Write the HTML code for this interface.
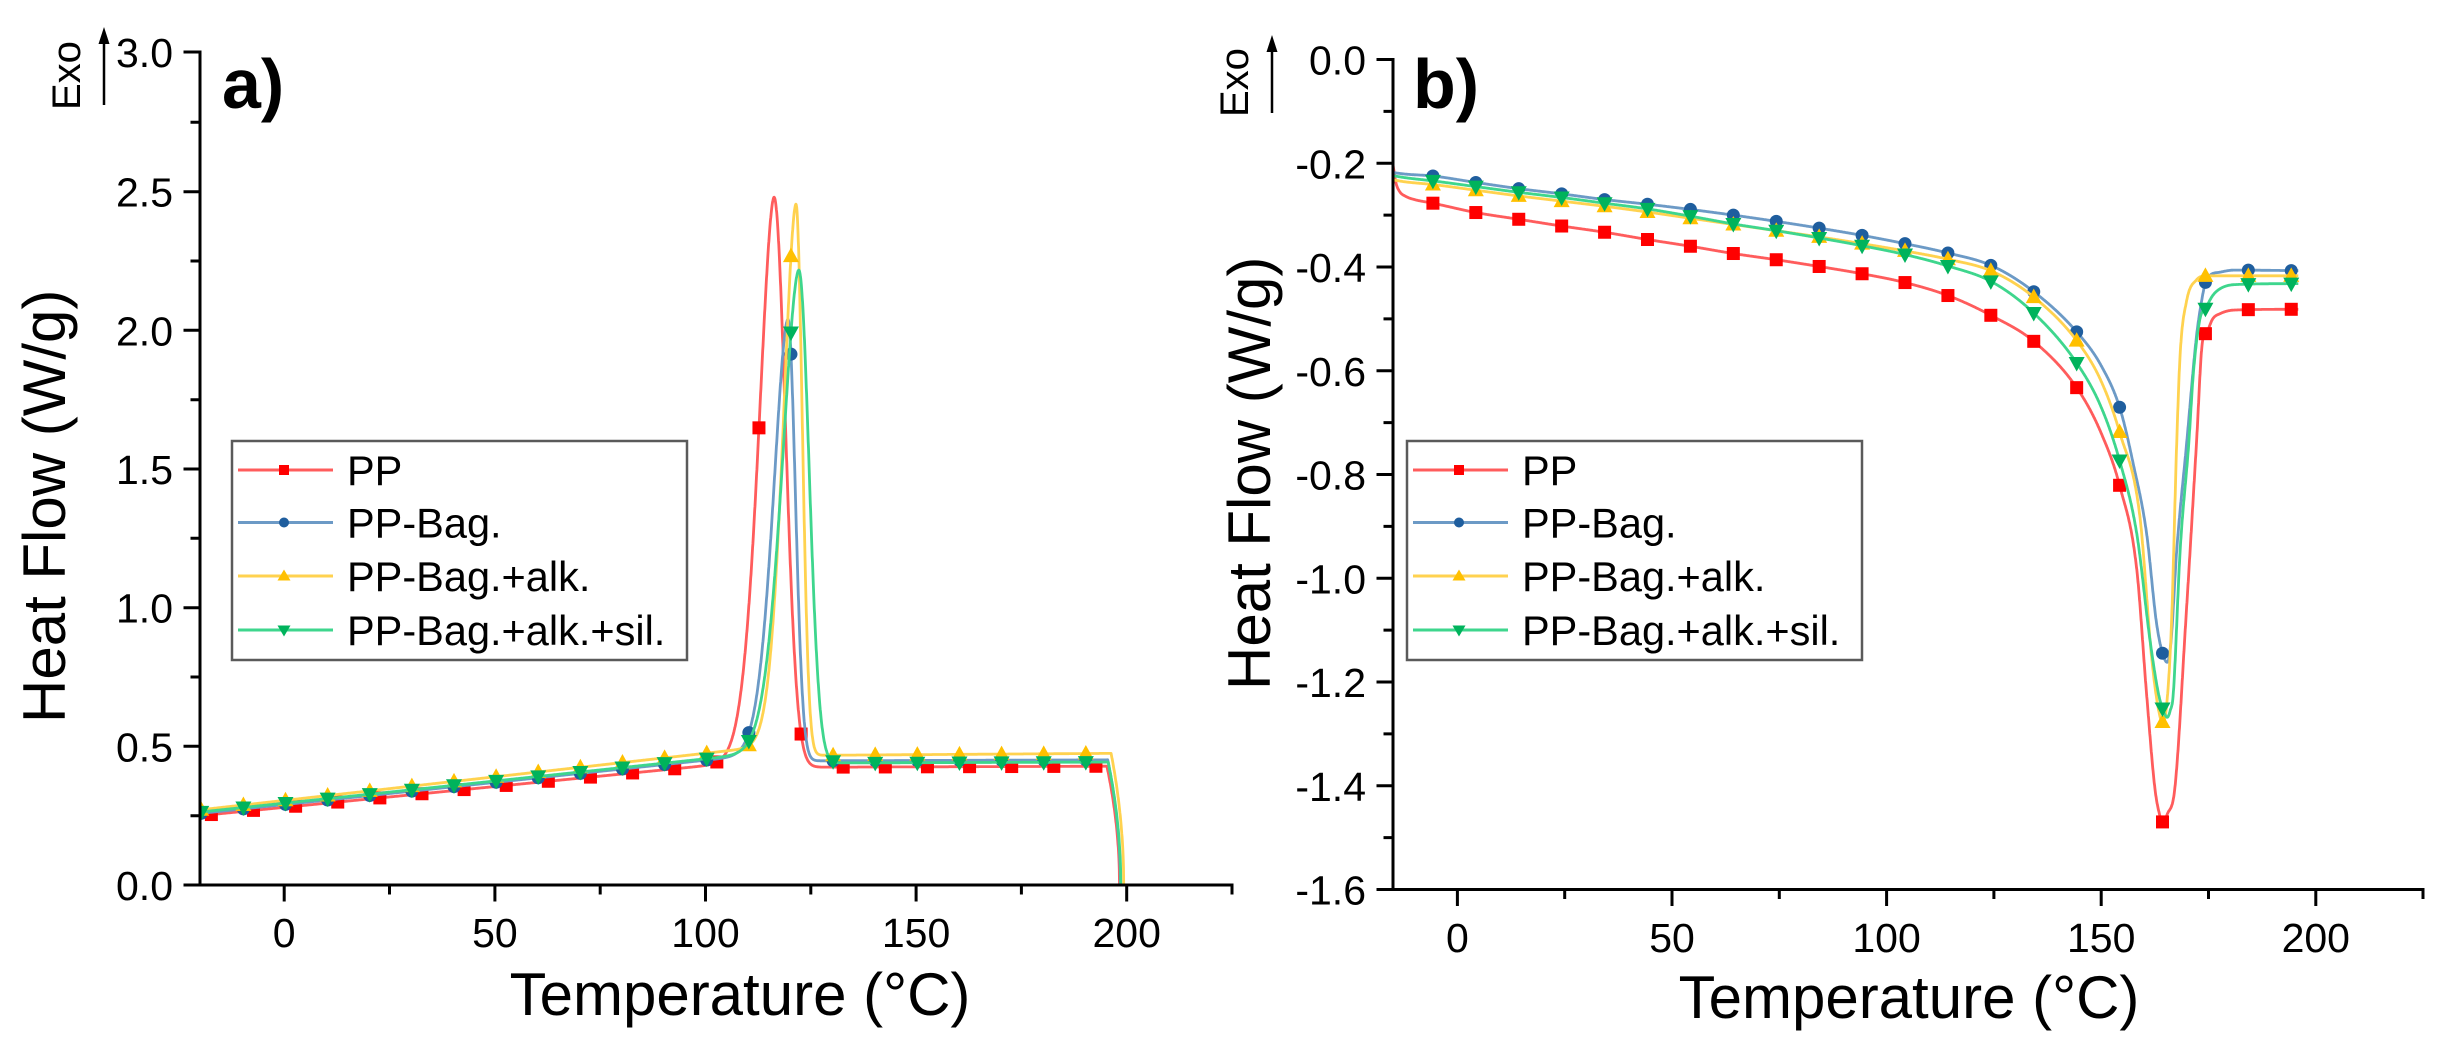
<!DOCTYPE html>
<html><head><meta charset="utf-8">
<style>
html,body{margin:0;padding:0;background:#fff;overflow:hidden;}
svg{display:block;}
text{font-family:"Liberation Sans",Arial,sans-serif;fill:#000;}
.tk{font-size:41px;}
.ttl{font-size:60px;}
.lg{font-size:41.5px;}
</style></head>
<body>
<svg id="s" width="2445" height="1048" viewBox="0 0 2445 1048" xmlns="http://www.w3.org/2000/svg">
<rect width="2445" height="1048" fill="#fff"/>
<defs>
<clipPath id="ca"><rect x="200" y="0" width="1032" height="885"/></clipPath>
<clipPath id="cb"><rect x="1393" y="0" width="1030" height="889.5"/></clipPath>
</defs>

<!-- Legends boxes (drawn under curves as in Origin it sits in plot) -->
<rect x="232" y="441" width="455" height="219" fill="#fff" stroke="#5a5a5a" stroke-width="2.5"/>
<rect x="1407" y="441" width="455" height="219" fill="#fff" stroke="#5a5a5a" stroke-width="2.5"/>

<g id="ga" clip-path="url(#ca)"></g>
<g id="gb" clip-path="url(#cb)"></g>

<!-- Panel a axes -->
<g stroke="#000" stroke-width="3" fill="none" stroke-linecap="square">
<path d="M200,52 V885 H1232"/>
<path d="M185,885H200 M185,746.3H200 M185,607.7H200 M185,469H200 M185,330.3H200 M185,191.7H200 M185,52H200"/>
<path d="M192,815.7H200 M192,677H200 M192,538.3H200 M192,399.7H200 M192,261H200 M192,122.3H200"/>
<path d="M284.2,885V900 M494.9,885V900 M705.5,885V900 M916.1,885V900 M1126.7,885V900"/>
<path d="M389.5,885V893 M600.2,885V893 M810.8,885V893 M1021.4,885V893 M1232,885V893"/>
</g>
<!-- Panel b axes -->
<g stroke="#000" stroke-width="3" fill="none" stroke-linecap="square">
<path d="M1393,59.5 V889.5 H2423"/>
<path d="M1378,59.5H1393 M1378,163.25H1393 M1378,267H1393 M1378,370.75H1393 M1378,474.5H1393 M1378,578.25H1393 M1378,682H1393 M1378,785.75H1393 M1378,889.5H1393"/>
<path d="M1385,111.4H1393 M1385,215.1H1393 M1385,318.9H1393 M1385,422.6H1393 M1385,526.4H1393 M1385,630.1H1393 M1385,733.9H1393 M1385,837.6H1393"/>
<path d="M1457.4,889.5V904.5 M1672,889.5V904.5 M1886.6,889.5V904.5 M2101.2,889.5V904.5 M2315.8,889.5V904.5"/>
<path d="M1564.7,889.5V897.5 M1779.3,889.5V897.5 M1993.9,889.5V897.5 M2208.5,889.5V897.5 M2423,889.5V897.5"/>
</g>

<!-- Panel a tick labels -->
<g class="tk" text-anchor="end">
<text x="173" y="900">0.0</text>
<text x="173" y="761.3">0.5</text>
<text x="173" y="622.7">1.0</text>
<text x="173" y="484">1.5</text>
<text x="173" y="345.3">2.0</text>
<text x="173" y="206.7">2.5</text>
<text x="173" y="67">3.0</text>
</g>
<g class="tk" text-anchor="middle">
<text x="284.2" y="947">0</text>
<text x="494.9" y="947">50</text>
<text x="705.5" y="947">100</text>
<text x="916.1" y="947">150</text>
<text x="1126.7" y="947">200</text>
</g>
<!-- Panel b tick labels -->
<g class="tk" text-anchor="end">
<text x="1366" y="74.5">0.0</text>
<text x="1366" y="178.25">-0.2</text>
<text x="1366" y="282">-0.4</text>
<text x="1366" y="385.75">-0.6</text>
<text x="1366" y="489.5">-0.8</text>
<text x="1366" y="593.25">-1.0</text>
<text x="1366" y="697">-1.2</text>
<text x="1366" y="800.75">-1.4</text>
<text x="1366" y="904.5">-1.6</text>
</g>
<g class="tk" text-anchor="middle">
<text x="1457.4" y="952">0</text>
<text x="1672" y="952">50</text>
<text x="1886.6" y="952">100</text>
<text x="2101.2" y="952">150</text>
<text x="2315.8" y="952">200</text>
</g>

<!-- Titles -->
<text class="ttl" x="740" y="1015" text-anchor="middle">Temperature (°C)</text>
<text class="ttl" x="1909" y="1018" text-anchor="middle">Temperature (°C)</text>
<text class="ttl" transform="translate(65,723) rotate(-90)">Heat Flow (W/g)</text>
<text class="ttl" transform="translate(1270,690) rotate(-90)">Heat Flow (W/g)</text>

<!-- Exo labels and arrows -->
<text style="font-size:40px" transform="translate(80,110) rotate(-90)">Exo</text>
<line x1="104" y1="105" x2="104" y2="40" stroke="#000" stroke-width="2.5"/>
<polygon points="104,27 109.5,44 98.5,44" fill="#000"/>
<text style="font-size:40px" transform="translate(1248,117) rotate(-90)">Exo</text>
<line x1="1272" y1="113" x2="1272" y2="48" stroke="#000" stroke-width="2.5"/>
<polygon points="1272,35 1277.5,52 1266.5,52" fill="#000"/>

<text x="222" y="108" style="font-size:70px;font-weight:bold">a)</text>
<text x="1413" y="108" style="font-size:70px;font-weight:bold">b)</text>

<!-- Legend a entries -->
<g stroke-width="3">
<line x1="238" y1="470" x2="333" y2="470" stroke="#ff5c5c"/>
<line x1="238" y1="522.5" x2="333" y2="522.5" stroke="#6c9ac6"/>
<line x1="238" y1="576" x2="333" y2="576" stroke="#ffd24f"/>
<line x1="238" y1="630" x2="333" y2="630" stroke="#3ed68d"/>
<line x1="1413" y1="470" x2="1508" y2="470" stroke="#ff5c5c"/>
<line x1="1413" y1="522.5" x2="1508" y2="522.5" stroke="#6c9ac6"/>
<line x1="1413" y1="576" x2="1508" y2="576" stroke="#ffd24f"/>
<line x1="1413" y1="630" x2="1508" y2="630" stroke="#3ed68d"/>
</g>
<rect x="279" y="465" width="10" height="10" fill="#ff0000"/>
<circle cx="284" cy="522.5" r="5" fill="#1f5e9e"/>
<polygon points="284,569.5 290.5,580.5 277.5,580.5" fill="#ffc000"/>
<polygon points="284,636.5 290.5,625.5 277.5,625.5" fill="#00b35c"/>
<rect x="1454" y="465" width="10" height="10" fill="#ff0000"/>
<circle cx="1459" cy="522.5" r="5" fill="#1f5e9e"/>
<polygon points="1459,569.5 1465.5,580.5 1452.5,580.5" fill="#ffc000"/>
<polygon points="1459,636.5 1465.5,625.5 1452.5,625.5" fill="#00b35c"/>
<g class="lg">
<text x="347" y="485">PP</text>
<text x="347" y="537.5">PP-Bag.</text>
<text x="347" y="591">PP-Bag.+alk.</text>
<text x="347" y="645">PP-Bag.+alk.+sil.</text>
<text x="1522" y="485">PP</text>
<text x="1522" y="537.5">PP-Bag.</text>
<text x="1522" y="591">PP-Bag.+alk.</text>
<text x="1522" y="645">PP-Bag.+alk.+sil.</text>
</g>
</svg>
<script>
(function(){
const NS="http://www.w3.org/2000/svg";
function el(tag,attrs,parent){const e=document.createElementNS(NS,tag);for(const k in attrs)e.setAttribute(k,attrs[k]);parent.appendChild(e);return e;}
const ax=T=>200+(T+20)*4.2122, ay=v=>885-v*277.33;
const bx=T=>1393+(T+15)*4.2917, by=v=>59.5-v*518.75;
const S=[
 {lc:'#ff5c5c',mc:'#ff0000',mk:'sq'},
 {lc:'#6c9ac6',mc:'#1f5e9e',mk:'ci'},
 {lc:'#ffd24f',mc:'#ffc000',mk:'up'},
 {lc:'#3ed68d',mc:'#00b35c',mk:'dn'}];
function marker(g,type,x,y,c,s){
 if(type==='sq') el('rect',{x:x-6.5*s,y:y-6.5*s,width:13*s,height:13*s,fill:c},g);
 else if(type==='ci') el('circle',{cx:x,cy:y,r:6.5*s,fill:c},g);
 else if(type==='up') el('polygon',{points:x+','+(y-8.5*s)+' '+(x+8*s)+','+(y+6*s)+' '+(x-8*s)+','+(y+6*s),fill:c},g);
 else el('polygon',{points:x+','+(y+8.5*s)+' '+(x+8*s)+','+(y-6*s)+' '+(x-8*s)+','+(y-6*s),fill:c},g);
}
/* Panel a */
const PA=[
 {p0:.28,p1:.0015,q0:.425,q1:.00005,Tp:116.3,pk:2.48,sL:5.18,sR:3.8,Te:198.3,m0:-17.3},
 {p0:.29,p1:.0016,q0:.448,q1:.00005,Tp:119.6,pk:2.04,sL:5.0,sR:2.48,Te:198.5,m0:-19.7},
 {p0:.305,p1:.0017,q0:.468,q1:.0001,Tp:121.5,pk:2.455,sL:4.36,sR:2.11,Te:199.3,m0:-19.7},
 {p0:.295,p1:.0016,q0:.44,q1:.00005,Tp:122.2,pk:2.217,sL:5.7,sR:3.4,Te:198.6,m0:-19.7}];
function fa(p,T){
 const pre=p.p0+p.p1*T, post=p.q0+p.q1*(T-130);
 const w=1/(1+Math.exp(-(T-p.Tp)/1.0));
 const base=pre*(1-w)+post*w;
 const basePk=(p.p0+p.p1*p.Tp)*0.5+(p.q0+p.q1*(p.Tp-130))*0.5;
 const A=p.pk-basePk;
 const d=T-p.Tp;
 const pk=d<0?A*Math.exp(-Math.pow(-d/p.sL,1.74)):A*Math.exp(-Math.pow(d/p.sR,2));
 let v=base+pk;
 if(T>p.Te-3){v*=Math.sqrt(Math.max(0,(p.Te-T)/3));}
 return v;
}
const ga=document.getElementById('ga');
PA.forEach((p,i)=>{
 const pts=[];
 for(let T=-20;T<=p.Te;T+=0.05){pts.push(ax(T).toFixed(1)+','+ay(fa(p,T)).toFixed(1));}
 pts.push(ax(p.Te).toFixed(1)+','+ay(0).toFixed(1));
 el('polyline',{points:pts.join(' '),fill:'none',stroke:S[i].lc,'stroke-width':2.8,'stroke-linejoin':'round'},ga);
 for(let T=p.m0;T<p.Te-1;T+=10){marker(ga,S[i].mk,ax(T),ay(fa(p,T)),S[i].mc,1);}
});
/* Panel b */
function mono(pts){
 const n=pts.length,xs=pts.map(p=>p[0]),ys=pts.map(p=>p[1]);
 const d=[],m=[];
 for(let i=0;i<n-1;i++)d.push((ys[i+1]-ys[i])/(xs[i+1]-xs[i]));
 m[0]=d[0];m[n-1]=d[n-2];
 for(let i=1;i<n-1;i++){m[i]=(d[i-1]*d[i]<=0)?0:(d[i-1]+d[i])/2;}
 for(let i=0;i<n-1;i++){
  if(d[i]===0){m[i]=0;m[i+1]=0;continue;}
  const a=m[i]/d[i],b=m[i+1]/d[i],s=a*a+b*b;
  if(s>9){const t=3/Math.sqrt(s);m[i]=t*a*d[i];m[i+1]=t*b*d[i];}
 }
 return function(x){
  let i=0;while(i<n-2&&x>xs[i+1])i++;
  const h=xs[i+1]-xs[i],t=(x-xs[i])/h,t2=t*t,t3=t2*t;
  return (2*t3-3*t2+1)*ys[i]+(t3-2*t2+t)*h*m[i]+(-2*t3+3*t2)*ys[i+1]+(t3-t2)*h*m[i+1];
 };
}
const PB=[
 [[-15,-0.203],[-14.3,-0.238],[-13.5,-0.254],[-12,-0.264],[-10,-0.27],[-5.7,-0.277],[4.3,-0.295],[14.3,-0.308],[24.3,-0.321],[34.3,-0.333],[44.3,-0.347],[54.3,-0.36],[64.3,-0.374],[74.3,-0.386],[84.3,-0.399],[94.3,-0.413],[104.3,-0.43],[114.3,-0.455],[124.5,-0.494],[134.4,-0.544],[144.5,-0.635],[150,-0.72],[154.4,-0.824],[158.3,-0.983],[160.6,-1.224],[162.5,-1.403],[163.6,-1.455],[164.4,-1.47],[165.4,-1.455],[167.2,-1.403],[169.7,-1.086],[172.2,-0.742],[173.6,-0.545],[174.6,-0.526],[176,-0.5],[177.7,-0.49],[181,-0.483],[196,-0.4815]],
 [[-15,-0.218],[-12,-0.221],[-5.7,-0.2246],[4.3,-0.237],[14.3,-0.249],[24.3,-0.259],[34.3,-0.27],[44.3,-0.279],[54.3,-0.289],[64.3,-0.3],[74.3,-0.312],[84.3,-0.325],[94.3,-0.339],[104.3,-0.355],[114.3,-0.373],[124.5,-0.3975],[134.2,-0.447],[144.3,-0.525],[150,-0.59],[154.4,-0.673],[157.5,-0.78],[160.6,-0.914],[162.9,-1.086],[164.3,-1.1445],[165.4,-1.162],[166.3,-1.12],[167.6,-0.948],[169.9,-0.742],[172.2,-0.535],[173.4,-0.466],[174.4,-0.427],[175.5,-0.415],[177.7,-0.41],[181,-0.406],[196,-0.407]],
 [[-15,-0.232],[-12,-0.236],[-5.7,-0.241],[4.3,-0.252],[14.3,-0.263],[24.3,-0.273],[34.3,-0.283],[44.3,-0.294],[54.3,-0.306],[64.3,-0.318],[74.3,-0.33],[84.3,-0.342],[94.3,-0.355],[104.3,-0.369],[114.3,-0.385],[124.5,-0.408],[134.3,-0.458],[144.4,-0.543],[150,-0.62],[154.4,-0.721],[159,-0.879],[161.8,-1.155],[163.3,-1.25],[164.3,-1.277],[165.2,-1.25],[166.4,-1.086],[167.6,-0.742],[168.4,-0.57],[169.9,-0.466],[172.2,-0.425],[174.6,-0.417],[196,-0.417]],
 [[-15,-0.224],[-12,-0.228],[-5.7,-0.234],[4.3,-0.245],[14.3,-0.256],[24.3,-0.266],[34.3,-0.277],[44.3,-0.288],[54.3,-0.302],[64.3,-0.317],[74.3,-0.33],[84.3,-0.344],[94.3,-0.359],[104.3,-0.376],[114.3,-0.398],[124.5,-0.4285],[134.2,-0.488],[144.3,-0.585],[150,-0.67],[154.4,-0.776],[158.3,-0.914],[161.4,-1.12],[163.3,-1.22],[164.3,-1.251],[165.4,-1.268],[166.1,-1.255],[166.8,-1.224],[168.4,-0.948],[170.4,-0.742],[171.5,-0.604],[173,-0.501],[174.4,-0.479],[176,-0.455],[177.7,-0.442],[181,-0.434],[196,-0.432]]];
const gb=document.getElementById('gb');
PB.forEach((data,i)=>{
 const f=mono(data);
 const pts=[];
 for(let T=-15;T<=196;T+=0.05){pts.push(bx(T).toFixed(1)+','+by(f(T)).toFixed(1));}
 el('polyline',{points:pts.join(' '),fill:'none',stroke:S[i].lc,'stroke-width':2.8,'stroke-linejoin':'round'},gb);
 for(let T=-5.7;T<195;T+=10){marker(gb,S[i].mk,bx(T),by(f(T)),S[i].mc,1);}
});
})();
</script>
</body></html>
